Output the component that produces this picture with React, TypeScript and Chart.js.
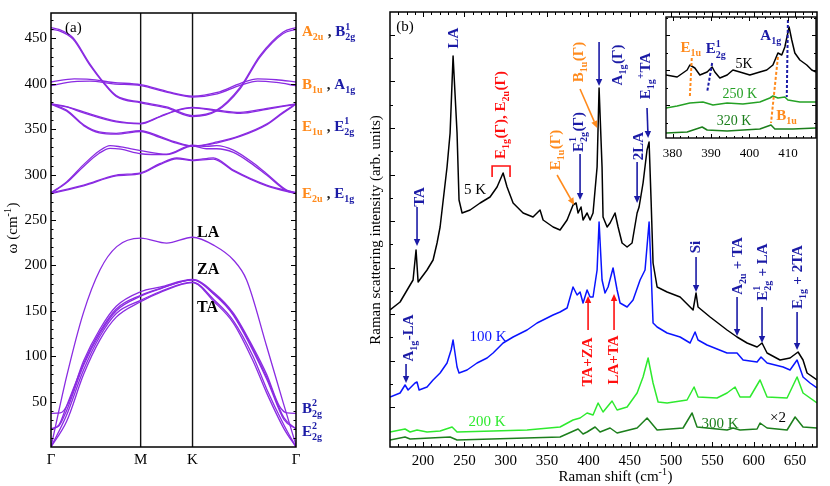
import React, { useEffect, useRef } from 'react';
import { Chart, registerables } from 'chart.js';

Chart.register(...registerables);

const SERIF = '"Liberation Serif", "Times New Roman", serif';
const PURPLE = '#8a2be2';
const NAVY = '#1b1ba6';
const ORANGE = '#ff8a1c';
const RED = '#ff1010';
const BLUE = '#0a14ff';
const LIME = '#2eea2e';
const DKGREEN = '#1c7f1c';
const MIDGREEN = '#25a125';

// ---------------- Panel (a): phonon dispersion ----------------
const qTicks = [0, 0.577, 0.911, 1.577];
const qLabels = ['Γ', 'M', 'K', 'Γ'];
const omegaTicks = [50, 100, 150, 200, 250, 300, 350, 400, 450];

const bandA2u = [[0, 462], [0.05, 460], [0.14, 451], [0.25, 422], [0.337, 402], [0.42, 387], [0.577, 380], [0.744, 374.5], [0.911, 365], [1.066, 371], [1.217, 396], [1.345, 431], [1.495, 457], [1.577, 462]];
const bandB2g1 = [[0, 460], [0.05, 458.5], [0.14, 449.5], [0.25, 420.5], [0.337, 401], [0.42, 386], [0.577, 379], [0.744, 373.5], [0.911, 364], [1.066, 370], [1.217, 394.5], [1.345, 429.5], [1.495, 455.5], [1.577, 460]];
const bandB1u = [[0, 402], [0.15, 405.5], [0.25, 405], [0.4, 401.5], [0.577, 399], [0.75, 391.5], [0.911, 386.5], [1.07, 390.5], [1.22, 400.5], [1.33, 405.5], [1.45, 404.5], [1.577, 402]];
const bandA1g = [[0, 398], [0.15, 402.5], [0.25, 403], [0.4, 400], [0.577, 398], [0.75, 390.5], [0.911, 385.5], [1.07, 389], [1.22, 398.5], [1.33, 403], [1.45, 401.5], [1.577, 398]];
const bandE1uA = [[0, 378], [0.1, 375], [0.21, 369], [0.42, 359], [0.577, 356.5], [0.7, 364], [0.8, 370.5], [0.911, 374], [1.07, 371], [1.217, 368.5], [1.39, 373], [1.577, 378]];
const bandE1uB = [[0, 377.5], [0.1, 374.5], [0.21, 368], [0.42, 358], [0.577, 356], [0.7, 363.5], [0.8, 370], [0.911, 373.5], [1.07, 370], [1.217, 367.5], [1.39, 372], [1.577, 377.5]];
const bandE2gA = [[0, 378], [0.1, 371], [0.21, 355], [0.31, 347], [0.42, 345.5], [0.577, 348.5], [0.7, 342], [0.8, 336], [0.911, 331.5], [1.07, 336], [1.217, 343], [1.39, 356], [1.495, 369], [1.577, 378]];
const bandE2gB = [[0, 377.5], [0.1, 370], [0.21, 354], [0.31, 346], [0.42, 344.5], [0.577, 347.5], [0.7, 341], [0.8, 335], [0.911, 331], [1.07, 335], [1.217, 342], [1.39, 355], [1.495, 368], [1.577, 377.5]];
const bandE2uA = [[0, 280], [0.1, 292], [0.21, 311], [0.31, 326], [0.38, 332], [0.45, 330.5], [0.577, 326.5], [0.744, 322.5], [0.911, 332.5], [1.0, 331], [1.066, 332], [1.174, 327], [1.3, 313], [1.388, 301], [1.517, 283], [1.577, 280]];
const bandE2uB = [[0, 279.5], [0.1, 291], [0.21, 309], [0.31, 323.5], [0.38, 329], [0.45, 328], [0.577, 323], [0.744, 322], [0.911, 331.5], [1.0, 328.5], [1.066, 328.5], [1.174, 324.5], [1.3, 311], [1.388, 299.5], [1.517, 282], [1.577, 279.5]];
const bandE1gA = [[0, 280], [0.21, 288.5], [0.42, 299.5], [0.577, 302], [0.7, 312], [0.809, 318.5], [0.911, 316], [1.045, 318.5], [1.174, 305], [1.388, 288.5], [1.577, 280]];
const bandE1gB = [[0, 279], [0.21, 287.5], [0.42, 298.5], [0.577, 301], [0.7, 311], [0.809, 317.5], [0.911, 315.5], [1.045, 317], [1.174, 304], [1.388, 287.5], [1.577, 279]];
const bandLA = [[0, 0], [0.101, 78], [0.208, 147.5], [0.315, 195], [0.423, 220.7], [0.577, 230], [0.744, 224.5], [0.911, 231], [1.05, 222], [1.174, 206], [1.259, 184], [1.388, 111], [1.495, 48.6], [1.577, 2]];
const bandZA = [[0, 37], [0.06, 37.5], [0.11, 48], [0.21, 95], [0.315, 130], [0.42, 155], [0.577, 171], [0.7, 176], [0.911, 184.5], [1.05, 170], [1.174, 147.5], [1.3, 110], [1.388, 80], [1.47, 45], [1.52, 37.5], [1.577, 37]];
const bandE2g2A = [[0, 20], [0.05, 23], [0.1, 40], [0.21, 90], [0.315, 125], [0.42, 150], [0.577, 166], [0.7, 174], [0.911, 184], [1.05, 168], [1.174, 145], [1.388, 75], [1.5, 30], [1.577, 20]];
const bandE2g2B = [[0, 20], [0.05, 24], [0.1, 45], [0.21, 92], [0.315, 127], [0.42, 152], [0.577, 167], [0.7, 174.5], [0.911, 184], [1.05, 168.5], [1.174, 146], [1.388, 77], [1.5, 32], [1.577, 20]];
const bandTA1 = [[0, 0], [0.1, 28], [0.21, 80], [0.315, 118], [0.42, 143], [0.577, 160], [0.7, 170], [0.911, 181], [1.05, 160], [1.174, 136.5], [1.3, 95], [1.388, 59.6], [1.5, 20], [1.577, 0]];
const bandTA2 = [[0, 0], [0.1, 35], [0.21, 85], [0.315, 122], [0.42, 147], [0.577, 161.5], [0.7, 171], [0.911, 181.5], [1.05, 162], [1.174, 139], [1.3, 100], [1.388, 64], [1.5, 24], [1.577, 0]];

const bandsA = [bandA2u, bandB2g1, bandB1u, bandA1g, bandE1uA, bandE1uB, bandE2gA, bandE2gB, bandE2uA, bandE2uB, bandE1gA, bandE1gB, bandLA, bandZA, bandE2g2A, bandE2g2B, bandTA1, bandTA2];

// ---------------- Panel (b): Raman spectra ----------------
const ramanTicks = [200, 250, 300, 350, 400, 450, 500, 550, 600, 650];
const ramanYTicks = [40, 86.5, 133, 179.5, 226, 272.5, 319, 365.5, 412];

const spectrum5K = [[160, 137], [172.2, 145], [184.3, 162], [187.9, 167], [191.5, 197], [194, 165], [204.8, 177], [212.1, 187], [216.9, 204], [220.6, 220], [229, 280], [232.7, 314], [236.3, 391], [241.1, 314], [243.5, 247], [247.2, 234], [256.9, 237], [269, 244], [281, 250], [289.5, 260], [296.8, 274], [301.6, 260], [308.9, 244], [321, 234], [333, 230], [341.5, 237], [345.2, 227], [357.3, 220], [365.7, 217], [374.2, 227], [381.4, 242], [385.1, 244], [387.5, 234], [391.1, 240], [393.5, 227], [398.4, 234], [402, 227], [405.6, 234], [410.5, 280], [412.9, 359], [416.5, 280], [417.7, 230], [422.6, 220], [426.2, 224], [432.2, 234], [435.9, 220], [440.7, 204], [446.8, 200], [452.8, 204], [458.9, 234], [461.3, 240], [466.1, 264], [470.9, 297], [473.4, 305], [475.8, 247], [478.2, 184], [483.1, 160], [495.2, 155], [510.9, 150], [523, 140], [526.6, 137], [530.2, 154], [532.6, 140], [547.2, 130], [567.7, 117], [579.8, 110], [591.9, 104], [604, 100], [610, 104], [616.1, 94], [631.8, 87], [643.9, 89], [653.6, 95], [659.6, 87], [664.5, 74], [676.5, 67]];
const spectrum100K = [[160, 50], [172.2, 54], [178.2, 62], [181.9, 57], [190.3, 64], [192.7, 65], [195.2, 57], [204.8, 60], [212.1, 67], [220.6, 74], [229, 84], [233.9, 97], [236.3, 107], [241.1, 80], [243.5, 74], [253.2, 77], [265.3, 84], [277.4, 89], [284.7, 94], [296.8, 104], [308.9, 110], [325.8, 117], [337.9, 124], [350, 129], [357.2, 132], [365.7, 135], [374.2, 139], [381.4, 160], [386.3, 152], [389.9, 155], [393.5, 144], [398.4, 157], [402, 150], [405.6, 150], [410.5, 177], [412.9, 225], [416.5, 167], [420.1, 154], [423.8, 160], [429.8, 179], [434.7, 157], [438.3, 144], [446.8, 140], [454, 147], [462.5, 167], [468.5, 177], [473.4, 225], [475.8, 177], [478.2, 124], [483.1, 120], [495.2, 114], [510.9, 110], [523, 104], [529, 115], [532.6, 107], [543.5, 102], [567.7, 94], [579.8, 94], [587.1, 87], [604, 85], [608.8, 90], [616.1, 84], [635.5, 80], [643.9, 77], [652.4, 87], [659.6, 70], [668.1, 64], [676.5, 59]];
const spectrum200K = [[160, 15], [178.2, 18], [184.3, 15], [192.7, 17], [204.8, 15], [220.6, 16], [235.1, 20], [241.1, 15], [284.7, 16], [325.8, 17], [365.7, 20], [381.4, 27], [389.9, 29], [398.4, 34], [405.6, 32], [411.7, 44], [417.7, 35], [428.6, 46], [434.7, 37], [446.8, 40], [458.9, 54], [466.1, 70], [472.2, 89], [478.2, 64], [484.3, 45], [495.2, 44], [519.3, 47], [527.8, 60], [532.6, 50], [555.6, 49], [567.7, 54], [577.4, 60], [583.4, 50], [595.5, 50], [607.6, 67], [616.1, 50], [640.3, 49], [652.4, 70], [659.6, 54], [676.5, 44]];
const spectrum300K = [[160, 7], [178.2, 10], [184.3, 8], [232.7, 10], [241.1, 7], [365.7, 10], [387.5, 18], [393.5, 13], [398.4, 15], [408.1, 20], [414.1, 15], [426.2, 19], [434.7, 14], [458.9, 19], [471, 29], [483.1, 17], [514.5, 19], [525.4, 34], [531.4, 20], [567.7, 17], [575, 19], [583.4, 17], [604, 18], [607.6, 24], [616.1, 19], [640.3, 17], [650, 30], [659.6, 20], [676.5, 19]];

// ---------------- Inset ----------------
const insetTicks = [380, 390, 400, 410];
const inset5K = [[378.3, 63], [381.2, 61], [383.8, 68], [384.5, 73], [385.8, 70], [387.1, 63], [389, 66], [390.3, 71], [391, 66], [392.3, 60], [394.2, 63], [395.7, 68], [397.5, 66], [400.1, 63], [402.7, 66], [404.5, 68], [406.1, 73], [407.4, 85], [408.4, 83], [409.2, 91], [410.3, 111], [411, 98], [411.8, 85], [413.1, 78], [414.9, 73], [416.2, 68], [417.3, 66]];
const inset250K = [[378.3, 30], [381.2, 32], [384.5, 35], [387.9, 36], [390.5, 33], [394.2, 35], [398.3, 34], [402.7, 36], [405.3, 40], [406.1, 42], [407.4, 40], [409.2, 41], [410, 38], [413.1, 36], [417.3, 36]];
const inset320K = [[378.3, 5], [383.8, 6], [387.7, 11], [389, 8], [394.2, 7], [402.7, 9], [405.6, 13], [406.6, 9], [411.3, 9], [417.3, 10]];

// ---------------- helpers ----------------
type Seg = { t: string; k?: 'sub' | 'sup'; sup?: string; c?: string };

function fnt(size: number, bold?: boolean) {
  return `${bold ? 'bold ' : ''}${size}px ${SERIF}`;
}

function drawRich(ctx: any, x: number, y: number, segs: Seg[], o: { size: number; bold?: boolean; color?: string; rot?: boolean; align?: 'left' | 'center' }) {
  const sm = Math.round(o.size * 0.68);
  ctx.save();
  ctx.translate(x, y);
  if (o.rot) ctx.rotate(-Math.PI / 2);
  ctx.textBaseline = 'alphabetic';
  ctx.textAlign = 'left';
  const ws = segs.map((s) => {
    ctx.font = fnt(s.k ? sm : o.size, o.bold);
    let w = ctx.measureText(s.t).width;
    if (s.sup) w = Math.max(w, ctx.measureText(s.sup).width);
    return w + (s.k ? 0.5 : 0);
  });
  const total = ws.reduce((p, c) => p + c, 0);
  let cx = o.align === 'center' ? -total / 2 : 0;
  const base = o.size * 0.33;
  segs.forEach((s, i) => {
    ctx.fillStyle = s.c || o.color || '#000';
    if (!s.k) {
      ctx.font = fnt(o.size, o.bold);
      ctx.fillText(s.t, cx, base);
    } else if (s.k === 'sub') {
      ctx.font = fnt(sm, o.bold);
      ctx.fillText(s.t, cx, base + o.size * 0.27);
      if (s.sup) ctx.fillText(s.sup, cx, base - o.size * 0.45);
    } else {
      ctx.font = fnt(sm, o.bold);
      ctx.fillText(s.t, cx, base - o.size * 0.42);
    }
    cx += ws[i];
  });
  ctx.restore();
}

function arrow(ctx: any, x1: number, y1: number, x2: number, y2: number, color: string, lw = 1.6, head = 7) {
  ctx.save();
  ctx.strokeStyle = color;
  ctx.fillStyle = color;
  ctx.lineWidth = lw;
  const ang = Math.atan2(y2 - y1, x2 - x1);
  const bx = x2 - head * Math.cos(ang);
  const by = y2 - head * Math.sin(ang);
  ctx.beginPath();
  ctx.moveTo(x1, y1);
  ctx.lineTo(bx, by);
  ctx.stroke();
  ctx.beginPath();
  ctx.moveTo(x2, y2);
  ctx.lineTo(bx + 3.2 * Math.sin(ang), by - 3.2 * Math.cos(ang));
  ctx.lineTo(bx - 3.2 * Math.sin(ang), by + 3.2 * Math.cos(ang));
  ctx.closePath();
  ctx.fill();
  ctx.restore();
}

function frame(ctx: any, a: any, lw = 1.4) {
  ctx.save();
  ctx.strokeStyle = '#000';
  ctx.lineWidth = lw;
  ctx.strokeRect(a.left, a.top, a.right - a.left, a.bottom - a.top);
  ctx.restore();
}

function ticksX(ctx: any, chart: any, vals: number[], len: number, sides: string[]) {
  const a = chart.chartArea;
  const s = chart.scales.x;
  ctx.save();
  ctx.strokeStyle = '#000';
  ctx.lineWidth = 1;
  ctx.beginPath();
  vals.forEach((v) => {
    const p = Math.round(s.getPixelForValue(v)) + 0.5;
    if (sides.includes('bottom')) { ctx.moveTo(p, a.bottom); ctx.lineTo(p, a.bottom - len); }
    if (sides.includes('top')) { ctx.moveTo(p, a.top); ctx.lineTo(p, a.top + len); }
  });
  ctx.stroke();
  ctx.restore();
}

function ticksY(ctx: any, chart: any, vals: number[], len: number, sides: string[]) {
  const a = chart.chartArea;
  const s = chart.scales.y;
  ctx.save();
  ctx.strokeStyle = '#000';
  ctx.lineWidth = 1;
  ctx.beginPath();
  vals.forEach((v) => {
    const p = Math.round(s.getPixelForValue(v)) + 0.5;
    if (sides.includes('left')) { ctx.moveTo(a.left, p); ctx.lineTo(a.left + len, p); }
    if (sides.includes('right')) { ctx.moveTo(a.right, p); ctx.lineTo(a.right - len, p); }
  });
  ctx.stroke();
  ctx.restore();
}

function range(from: number, to: number, step: number, skip?: number) {
  const out: number[] = [];
  for (let v = from; v <= to + 1e-9; v += step) {
    if (skip && Math.abs(v / skip - Math.round(v / skip)) < 1e-6) continue;
    out.push(Math.round(v * 1000) / 1000);
  }
  return out;
}

const toXY = (arr: number[][]) => arr.map(([x, y]) => ({ x, y }));

// ---------------- annotations ----------------
const modeLabelsA: { w: number; segs: Seg[] }[] = [
  { w: 457.7, segs: [{ t: 'A', c: ORANGE }, { t: '2u', k: 'sub', c: ORANGE }, { t: ' , ', c: '#222' }, { t: 'B', c: NAVY }, { t: '2g', k: 'sub', sup: '1', c: NAVY }] },
  { w: 399.5, segs: [{ t: 'B', c: ORANGE }, { t: '1u', k: 'sub', c: ORANGE }, { t: ' , ', c: '#222' }, { t: 'A', c: NAVY }, { t: '1g', k: 'sub', c: NAVY }] },
  { w: 354, segs: [{ t: 'E', c: ORANGE }, { t: '1u', k: 'sub', c: ORANGE }, { t: ' , ', c: '#222' }, { t: 'E', c: NAVY }, { t: '2g', k: 'sub', sup: '1', c: NAVY }] },
  { w: 279.7, segs: [{ t: 'E', c: ORANGE }, { t: '2u', k: 'sub', c: ORANGE }, { t: ' , ', c: '#222' }, { t: 'E', c: NAVY }, { t: '1g', k: 'sub', c: NAVY }] },
  { w: 43.4, segs: [{ t: 'B', c: NAVY }, { t: '2g', k: 'sub', sup: '2', c: NAVY }] },
  { w: 18, segs: [{ t: 'E', c: NAVY }, { t: '2g', k: 'sub', sup: '2', c: NAVY }] },
];

const branchLabelsA = [
  { q: 0.94, w: 236.8, t: 'LA' },
  { q: 0.94, w: 196, t: 'ZA' },
  { q: 0.94, w: 154, t: 'TA' },
];

const rotLabelsB: { x: number; y: number; segs: Seg[]; c: string }[] = [
  { x: 236.3, y: 409, segs: [{ t: 'LA' }], c: NAVY },
  { x: 195.2, y: 250, segs: [{ t: 'TA' }], c: NAVY },
  { x: 293.1, y: 332, segs: [{ t: 'E' }, { t: '1g', k: 'sub' }, { t: '(Γ), E' }, { t: '2u', k: 'sub' }, { t: '(Γ)' }], c: RED },
  { x: 359.7, y: 297, segs: [{ t: 'E' }, { t: '1u', k: 'sub' }, { t: '(Γ)' }], c: ORANGE },
  { x: 387.5, y: 315, segs: [{ t: 'E' }, { t: '2g', k: 'sub', sup: '1' }, { t: '(Γ)' }], c: NAVY },
  { x: 387.5, y: 385, segs: [{ t: 'B' }, { t: '1u', k: 'sub' }, { t: '(Γ)' }], c: ORANGE },
  { x: 434.7, y: 382, segs: [{ t: 'A' }, { t: '1g', k: 'sub' }, { t: '(Γ)' }], c: NAVY },
  { x: 468.5, y: 371, segs: [{ t: 'E' }, { t: '1g', k: 'sub' }, { t: '+', k: 'sup' }, { t: 'TA' }], c: NAVY },
  { x: 460.1, y: 301, segs: [{ t: '2LA' }], c: NAVY },
  { x: 529, y: 200, segs: [{ t: 'Si' }], c: NAVY },
  { x: 579.8, y: 181, segs: [{ t: 'A' }, { t: '2u', k: 'sub' }, { t: ' + TA' }], c: NAVY },
  { x: 610, y: 175, segs: [{ t: 'E' }, { t: '2g', k: 'sub', sup: '1' }, { t: ' + LA' }], c: NAVY },
  { x: 652.4, y: 170, segs: [{ t: 'E' }, { t: '1g', k: 'sub' }, { t: ' + 2TA' }], c: NAVY },
  { x: 181.9, y: 109, segs: [{ t: 'A' }, { t: '1g', k: 'sub' }, { t: '-LA' }], c: NAVY },
  { x: 398.4, y: 85, segs: [{ t: 'TA+ZA' }], c: RED },
  { x: 429.8, y: 87, segs: [{ t: 'LA+TA' }], c: RED },
];

const arrowsB = [
  { x1: 192.7, y1: 240, x2: 192.7, y2: 201, c: NAVY },
  { x1: 362.1, y1: 272, x2: 382.7, y2: 242, c: ORANGE },
  { x1: 389.9, y1: 293, x2: 389.9, y2: 247, c: NAVY },
  { x1: 389.9, y1: 358, x2: 410.5, y2: 319, c: ORANGE },
  { x1: 412.9, y1: 405, x2: 412.9, y2: 361, c: NAVY },
  { x1: 470.9, y1: 339, x2: 472.2, y2: 309, c: NAVY },
  { x1: 458.9, y1: 285, x2: 458.9, y2: 244, c: NAVY },
  { x1: 530.2, y1: 190, x2: 530.2, y2: 155, c: NAVY },
  { x1: 579.8, y1: 150, x2: 579.8, y2: 111, c: NAVY },
  { x1: 610, y1: 140, x2: 610, y2: 104, c: NAVY },
  { x1: 652.4, y1: 135, x2: 652.4, y2: 97, c: NAVY },
  { x1: 179.4, y1: 83, x2: 179.4, y2: 64, c: NAVY },
  { x1: 399.6, y1: 117, x2: 399.6, y2: 151, c: RED },
  { x1: 431, y1: 117, x2: 431, y2: 153, c: RED },
];

const flatLabelsB: { x: number; y: number; t: string; c: string }[] = [
  { x: 178.2, y: 421, t: '(b)', c: '#000' },
  { x: 262.9, y: 258, t: '5 K', c: '#000' },
  { x: 278.6, y: 111, t: '100 K', c: BLUE },
  { x: 277.4, y: 26, t: '200 K', c: LIME },
  { x: 559.2, y: 24, t: '300 K', c: DKGREEN },
  { x: 629.4, y: 30, t: '×2', c: '#000' },
];

const insetLabels: { x: number; y: number; segs: Seg[]; c: string; bold?: boolean }[] = [
  { x: 384.8, y: 91, segs: [{ t: 'E' }, { t: '1u', k: 'sub' }], c: ORANGE, bold: true },
  { x: 391.3, y: 89.5, segs: [{ t: 'E' }, { t: '2g', k: 'sub', sup: '1' }], c: NAVY, bold: true },
  { x: 398.6, y: 75, segs: [{ t: '5K' }], c: '#000' },
  { x: 405.6, y: 103, segs: [{ t: 'A' }, { t: '1g', k: 'sub' }], c: NAVY, bold: true },
  { x: 397.5, y: 45, segs: [{ t: '250 K' }], c: MIDGREEN },
  { x: 396, y: 18, segs: [{ t: '320 K' }], c: DKGREEN },
  { x: 409.7, y: 23, segs: [{ t: 'B' }, { t: '1u', k: 'sub' }], c: ORANGE, bold: true },
];

const insetDashes = [
  { x1: 385, y1: 80, x2: 384.5, y2: 41, c: ORANGE },
  { x1: 390.3, y1: 75, x2: 389, y2: 46, c: NAVY },
  { x1: 407.4, y1: 81, x2: 405.6, y2: 15, c: ORANGE },
  { x1: 410, y1: 118, x2: 409.7, y2: 41, c: NAVY },
];

// ---------------- plugins ----------------
const panelAPlugin = {
  id: 'panelA',
  beforeDatasetsDraw(chart: any) {
    const { ctx, chartArea: a, scales } = chart;
    ctx.save();
    ctx.strokeStyle = '#111';
    ctx.lineWidth = 1.4;
    [qTicks[1], qTicks[2]].forEach((q) => {
      const px = scales.x.getPixelForValue(q);
      ctx.beginPath();
      ctx.moveTo(px, a.top);
      ctx.lineTo(px, a.bottom);
      ctx.stroke();
    });
    ctx.restore();
  },
  afterDatasetsDraw(chart: any) {
    const { ctx, chartArea: a, scales } = chart;
    frame(ctx, a, 1.5);
    ticksY(ctx, chart, omegaTicks, 5, ['left', 'right']);
    ticksY(ctx, chart, range(10, 470, 10, 50), 2.5, ['left', 'right']);
    modeLabelsA.forEach((m) => {
      drawRich(ctx, a.right + 6, scales.y.getPixelForValue(m.w), m.segs, { size: 15, bold: true });
    });
    branchLabelsA.forEach((b) => {
      drawRich(ctx, scales.x.getPixelForValue(b.q), scales.y.getPixelForValue(b.w), [{ t: b.t }], { size: 16, bold: true });
    });
    drawRich(ctx, a.left + 14, a.top + 14, [{ t: '(a)' }], { size: 15 });
    drawRich(ctx, 12, 228, [{ t: 'ω (cm' }, { t: '-1', k: 'sup' }, { t: ')' }], { size: 15, rot: true, align: 'center' });
  },
};

const panelBPlugin = {
  id: 'panelB',
  afterDatasetsDraw(chart: any) {
    const { ctx, chartArea: a, scales } = chart;
    const X = (v: number) => scales.x.getPixelForValue(v);
    const Y = (v: number) => scales.y.getPixelForValue(v);
    frame(ctx, a, 1.5);
    ticksX(ctx, chart, ramanTicks, 5, ['bottom', 'top']);
    ticksX(ctx, chart, range(170, 670, 10, 50), 3, ['bottom', 'top']);
    ticksY(ctx, chart, ramanYTicks, 5, ['left']);
    ticksY(ctx, chart, ramanYTicks.slice(0, -1).map((v, i) => (v + ramanYTicks[i + 1]) / 2), 3, ['left']);

    arrowsB.forEach((r) => arrow(ctx, X(r.x1), Y(r.y1), X(r.x2), Y(r.y2), r.c));
    rotLabelsB.forEach((l) => drawRich(ctx, X(l.x), Y(l.y), l.segs, { size: 15, bold: true, color: l.c, rot: true, align: 'center' }));
    flatLabelsB.forEach((l) => drawRich(ctx, X(l.x), Y(l.y), [{ t: l.t }], { size: 15, color: l.c, align: 'center' }));

    // red bracket
    ctx.save();
    ctx.strokeStyle = RED;
    ctx.lineWidth = 1.6;
    ctx.beginPath();
    ctx.moveTo(X(283.5), Y(270));
    ctx.lineTo(X(283.5), Y(281));
    ctx.lineTo(X(305.2), Y(281));
    ctx.lineTo(X(305.2), Y(270));
    ctx.stroke();
    ctx.restore();

    // axis titles
    drawRich(ctx, (a.left + a.right) / 2 + 12, 476, [{ t: 'Raman shift (cm' }, { t: '-1', k: 'sup' }, { t: ')' }], { size: 15, align: 'center' });
    drawRich(ctx, a.left - 15, 230, [{ t: 'Raman scattering intensity (arb. units)' }], { size: 15, rot: true, align: 'center' });
  },
};

const insetPlugin = {
  id: 'inset',
  beforeDraw(chart: any) {
    const { ctx, chartArea: a } = chart;
    ctx.save();
    ctx.fillStyle = '#fff';
    ctx.fillRect(a.left, a.top, a.right - a.left, a.bottom - a.top);
    ctx.restore();
  },
  afterDatasetsDraw(chart: any) {
    const { ctx, chartArea: a, scales } = chart;
    const X = (v: number) => scales.x.getPixelForValue(v);
    const Y = (v: number) => scales.y.getPixelForValue(v);
    ctx.save();
    ctx.lineWidth = 2;
    ctx.setLineDash([3, 2]);
    insetDashes.forEach((d) => {
      ctx.strokeStyle = d.c;
      ctx.beginPath();
      ctx.moveTo(X(d.x1), Y(d.y1));
      ctx.lineTo(X(d.x2), Y(d.y2));
      ctx.stroke();
    });
    ctx.restore();
    frame(ctx, a, 1.4);
    ticksX(ctx, chart, insetTicks, 4, ['bottom', 'top']);
    ticksX(ctx, chart, range(380, 416, 2, 10), 2, ['bottom', 'top']);
    ticksY(ctx, chart, [33, 68, 103], 4, ['left', 'right']);
    ticksY(ctx, chart, [15.5, 50.5, 85.5, 120.5], 2, ['left', 'right']);
    insetLabels.forEach((l) => drawRich(ctx, X(l.x), Y(l.y), l.segs, { size: l.bold ? 15 : 14, bold: l.bold, color: l.c, align: 'center' }));
  },
};

function lineSet(arr: number[][], color: string, width: number, extra: any = {}) {
  return {
    data: toXY(arr),
    borderColor: color,
    borderWidth: width,
    pointRadius: 0,
    fill: false,
    borderJoinStyle: 'round',
    ...extra,
  };
}

export default function App() {
  const aRef = useRef<HTMLCanvasElement>(null);
  const bRef = useRef<HTMLCanvasElement>(null);
  const cRef = useRef<HTMLCanvasElement>(null);

  useEffect(() => {
    const common = {
      animation: false,
      responsive: false,
      maintainAspectRatio: false,
      events: [],
      plugins: { legend: { display: false }, tooltip: { enabled: false } },
    };

    const chartA = new Chart(aRef.current as any, {
      type: 'line',
      data: {
        datasets: bandsA.map((b) => lineSet(b, PURPLE, 1.3, { cubicInterpolationMode: 'monotone' })),
      },
      options: {
        ...common,
        layout: { padding: { top: 12, right: 365 - 296, left: 0, bottom: 0 } },
        scales: {
          x: {
            type: 'linear',
            min: 0,
            max: 1.577,
            grid: { display: false, drawTicks: false },
            border: { display: false },
            afterBuildTicks: (s: any) => { s.ticks = qTicks.map((v) => ({ value: v })); },
            ticks: { callback: (_v: any, i: number) => qLabels[i], font: { family: SERIF, size: 15 }, color: '#000', padding: 4, maxRotation: 0, autoSkip: false },
            afterFit: (s: any) => { s.height = 486 - 447; },
          },
          y: {
            type: 'linear',
            min: 0,
            max: 478,
            grid: { display: false, drawTicks: false },
            border: { display: false },
            afterBuildTicks: (s: any) => { s.ticks = omegaTicks.map((v) => ({ value: v })); },
            ticks: { font: { family: SERIF, size: 15 }, color: '#000', padding: 4 },
            afterFit: (s: any) => { s.width = 51; },
          },
        },
      } as any,
      plugins: [panelAPlugin],
    });

    const chartB = new Chart(bRef.current as any, {
      type: 'line',
      data: {
        datasets: [
          lineSet(spectrum300K, DKGREEN, 1.5),
          lineSet(spectrum200K, LIME, 1.5),
          lineSet(spectrum100K, BLUE, 1.5),
          lineSet(spectrum5K, '#000', 1.5),
        ],
      },
      options: {
        ...common,
        layout: { padding: { top: 12, right: 830 - 817, left: 0, bottom: 0 } },
        scales: {
          x: {
            type: 'linear',
            min: 160,
            max: 676.5,
            grid: { display: false, drawTicks: false },
            border: { display: false },
            afterBuildTicks: (s: any) => { s.ticks = ramanTicks.map((v) => ({ value: v })); },
            ticks: { font: { family: SERIF, size: 15 }, color: '#000', padding: 5, maxRotation: 0, autoSkip: false },
            afterFit: (s: any) => { s.height = 486 - 447; },
          },
          y: {
            type: 'linear',
            min: 0,
            max: 435,
            grid: { display: false, drawTicks: false },
            border: { display: false },
            ticks: { display: false },
            afterFit: (s: any) => { s.width = 390 - 356; },
          },
        },
      } as any,
      plugins: [panelBPlugin],
    });

    const chartC = new Chart(cRef.current as any, {
      type: 'line',
      data: {
        datasets: [
          lineSet(inset320K, DKGREEN, 1.5),
          lineSet(inset250K, MIDGREEN, 1.5),
          lineSet(inset5K, '#000', 1.5),
        ],
      },
      options: {
        ...common,
        layout: { padding: { top: 17, right: 190 - 176, left: 0, bottom: 0 } },
        scales: {
          x: {
            type: 'linear',
            min: 378.3,
            max: 417.3,
            grid: { display: false, drawTicks: false },
            border: { display: false },
            afterBuildTicks: (s: any) => { s.ticks = insetTicks.map((v) => ({ value: v })); },
            ticks: { font: { family: SERIF, size: 13 }, color: '#000', padding: 8, maxRotation: 0, autoSkip: false },
            afterFit: (s: any) => { s.height = 170 - 138; },
          },
          y: {
            type: 'linear',
            min: 0,
            max: 121,
            grid: { display: false, drawTicks: false },
            border: { display: false },
            ticks: { display: false },
            afterFit: (s: any) => { s.width = 26; },
          },
        },
      } as any,
      plugins: [insetPlugin],
    });

    return () => {
      chartA.destroy();
      chartB.destroy();
      chartC.destroy();
    };
  }, []);

  return (
    <div style={{ position: 'absolute', left: 0, top: 0, width: 830, height: 486, background: '#fff', overflow: 'hidden' }}>
      <canvas ref={aRef} width={365} height={486} style={{ position: 'absolute', left: 0, top: 0 }} />
      <canvas ref={bRef} width={474} height={486} style={{ position: 'absolute', left: 356, top: 0 }} />
      <canvas ref={cRef} width={190} height={170} style={{ position: 'absolute', left: 640, top: 0 }} />
    </div>
  );
}
